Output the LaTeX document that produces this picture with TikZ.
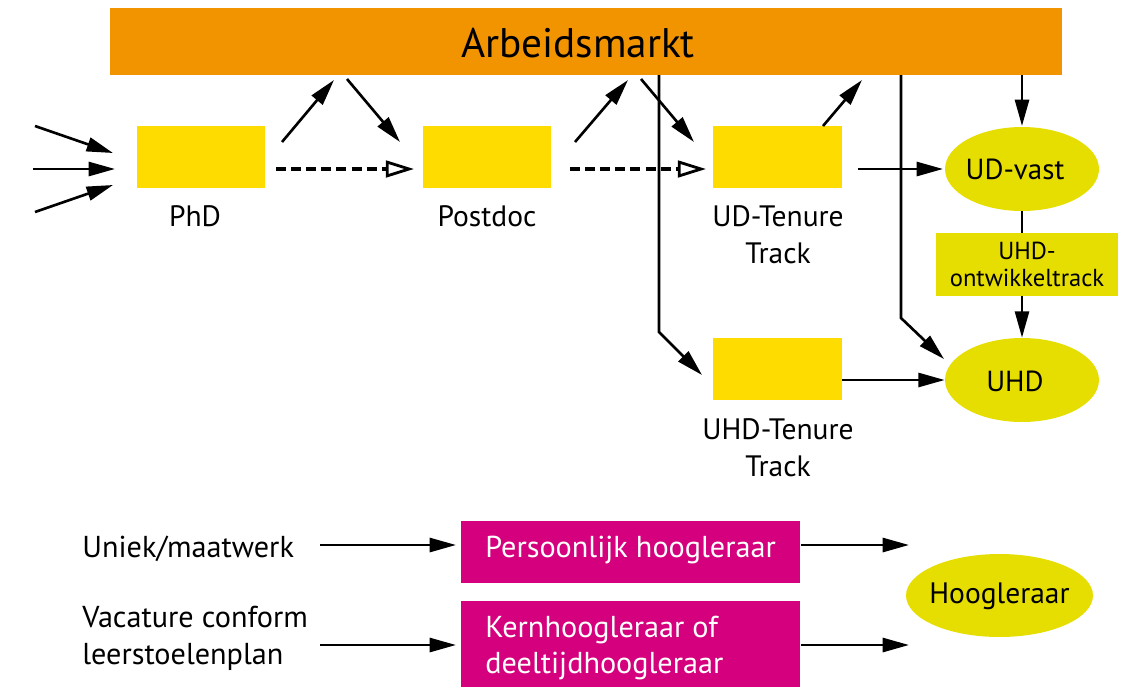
\documentclass[tikz,border=0pt]{standalone}
\usepackage{fontspec}
\setmainfont{PT Sans}
\usetikzlibrary{arrows.meta,shapes.geometric}
\definecolor{orng}{HTML}{F29400}
\definecolor{ylw}{HTML}{FEDC00}
\definecolor{olv}{HTML}{E6DE00}
\definecolor{mgt}{HTML}{D5007D}
\begin{document}
\begin{tikzpicture}[x=0.02cm,y=-0.02cm,
  arr/.style={line width=1.5pt,-{Triangle[length=15pt,width=8pt]}},
  dsh/.style={line width=2.4pt,dash pattern=on 5.7pt off 2.9pt,-{Triangle[open,length=16pt,width=9.5pt,line width=1.6pt]}},
  ln/.style={line width=1.5pt},
  ybox/.style={fill=ylw,minimum width=2.57cm,minimum height=1.24cm,inner sep=0pt},
  oval/.style={ellipse,fill=olv,minimum width=3.08cm,minimum height=1.68cm,inner sep=0pt,font=\fontsize{16.5}{19}\selectfont},
  mbox/.style={fill=mgt,text=white,minimum width=6.78cm,inner sep=0pt,font=\fontsize{17.2}{20.8}\selectfont},
  lbl/.style={font=\fontsize{16.8}{21}\selectfont,align=center,inner sep=0pt},
  llbl/.style={font=\fontsize{17.2}{21}\selectfont,align=left,inner sep=0pt,anchor=west}
]
\useasboundingbox (0,0) rectangle (1136,687);
% boxes
\fill[orng] (110,8) rectangle (1062,75);
\node[minimum width=19.04cm,minimum height=1.34cm,inner sep=0pt] (am) at (586,41.5) {};
\node[inner sep=0pt,font=\fontsize{23.5}{26}\selectfont] (amt) at (578,43) {Arbeidsmarkt};
\node[ybox] (phd) at (201,157) {};
\node[ybox] (pd) at (487,157) {};
\node[ybox] (udt) at (777.5,157) {};
\node[ybox] (uht) at (777.5,369) {};
\node[lbl] (phdl) at (195,216) {PhD};
\node[lbl] (pdl) at (487,216) {Postdoc};
\node[lbl] (udtl) at (778,235) {UD-Tenure\\Track};
\node[lbl] (uhtl) at (778,448) {UHD-Tenure\\Track};
\node[oval] (udv) at (1022,169) {};
\node[inner sep=0pt,font=\fontsize{16.5}{19}\selectfont] (udvt) at (1015,169) {UD-vast};
\node[oval] (uhd) at (1022,380) {};
\node[inner sep=0pt,font=\fontsize{16.5}{19}\selectfont] (uhdt) at (1015,381) {UHD};
\node[fill=olv,minimum width=3.64cm,minimum height=1.26cm,inner sep=0pt,align=center,font=\fontsize{14}{15.5}\selectfont] (ont) at (1027,264.5) {UHD-\\ontwikkeltrack};
\node[oval,minimum width=3.74cm,minimum height=1.66cm] (hl) at (999.5,595.5) {};
\node[inner sep=0pt,font=\fontsize{16.8}{19}\selectfont] (hlt) at (999.5,596) {Hoogleraar};
\node[mbox,minimum height=1.24cm] (ph) at (630.5,552) {};
\node[inner sep=0pt,text=white,font=\fontsize{17.2}{20.8}\selectfont,anchor=west] (pht) at (485,550) {Persoonlijk hoogleraar};
\fill[mgt] (461,601) rectangle (800,687);
\node[minimum width=6.78cm,minimum height=1.72cm,inner sep=0pt] (kh) at (630.5,644) {};
\node[llbl,text=white] (kht) at (485,648) {Kernhoogleraar of\\deeltijdhoogleraar};
\node[llbl] (un) at (82,549) {Uniek/maatwerk};
\node[llbl] (vc) at (82,638.5) {Vacature conform\\leerstoelenplan};
% free-end coordinates
\coordinate (i1) at (35,126); \coordinate (i1e) at (113,153);
\coordinate (i2) at (33,169); \coordinate (i2e) at (115,169);
\coordinate (i3) at (35,212); \coordinate (i3e) at (113,185);
\coordinate (a1) at (282,142); \coordinate (a1e) at (334,80);
\coordinate (a2) at (347,79); \coordinate (a2e) at (400,142);
\coordinate (a3) at (575,142); \coordinate (a3e) at (628,80);
\coordinate (a4) at (641,79); \coordinate (a4e) at (694,142);
\coordinate (a5) at (823,126); \coordinate (a5e) at (862,80);
\coordinate (v1) at (659,75); \coordinate (v1b) at (659,332); \coordinate (v1e) at (702,375);
\coordinate (v2) at (901,75); \coordinate (v2b) at (901,318); \coordinate (v2e) at (944,359);
\coordinate (v3) at (1022,75); \coordinate (v3e) at (1022,126);
\coordinate (h1) at (858,169); \coordinate (h1e) at (943,169);
\coordinate (d1) at (276,169); \coordinate (d1e) at (414,169);
\coordinate (d2) at (570,169); \coordinate (d2e) at (706,169);
\coordinate (b1) at (320,545); \coordinate (b1e) at (456,545);
\coordinate (b2) at (320,645); \coordinate (b2e) at (456,645);
\coordinate (b3) at (801,545); \coordinate (b3e) at (909,545);
\coordinate (b4) at (801,645); \coordinate (b4e) at (909,645);
% connectors
\draw[arr] (i1) -- (i1e);
\draw[arr] (i2) -- (i2e);
\draw[arr] (i3) -- (i3e);
\draw[arr] (a1) -- (a1e);
\draw[arr] (a2) -- (a2e);
\draw[arr] (a3) -- (a3e);
\draw[arr] (a4) -- (a4e);
\draw[arr] (a5) -- (a5e);
\draw[arr] (v1) -- (v1b) -- (v1e);
\draw[arr] (v2) -- (v2b) -- (v2e);
\draw[arr] (v3) -- (v3e);
\draw[dsh] (d1) -- (d1e);
\draw[dsh] (d2) -- (d2e);
\draw[arr] (h1) -- (h1e);
\draw[ln] (udv.south) -- (ont.north -| udv.south);
\draw[arr] (ont.south -| uhd.north) -- (uhd.north);
\draw[arr] (uhd.west -| uht.east) -- (uhd.west);
\draw[arr] (b1) -- (b1e);
\draw[arr] (b2) -- (b2e);
\draw[arr] (b3) -- (b3e);
\draw[arr] (b4) -- (b4e);
\end{tikzpicture}
\end{document}
